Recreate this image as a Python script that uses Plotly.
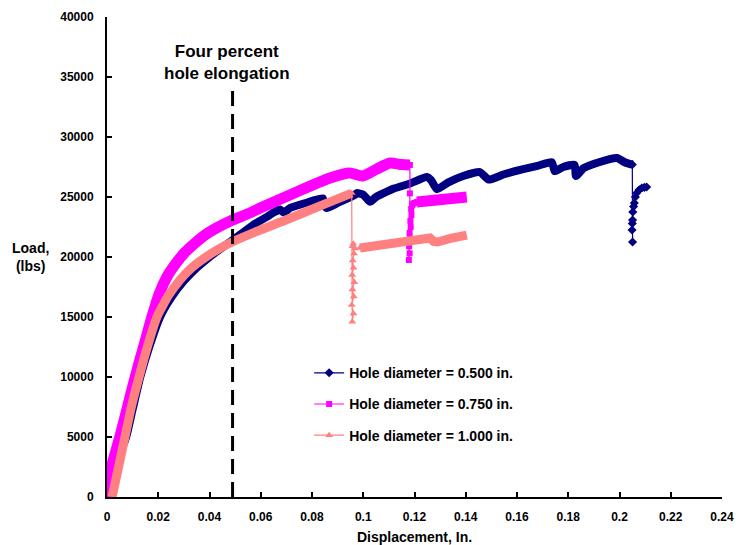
import plotly.graph_objects as go

# ---------------- data ----------------
# Hole diameter = 0.500 in.  (continuous curve up to failure)
d050_x = [0, 0.0015, 0.004, 0.0075, 0.010, 0.013, 0.0165, 0.0207, 0.025, 0.030, 0.035,
          0.040, 0.045, 0.0507, 0.058, 0.062, 0.065, 0.0675, 0.069, 0.0714, 0.0775,
          0.0842, 0.0848, 0.0858, 0.090, 0.0967, 0.0975, 0.100, 0.1026, 0.105, 0.112,
          0.118, 0.1248, 0.1265, 0.1287, 0.133, 0.139, 0.1455, 0.149, 0.155, 0.162,
          0.168, 0.1736, 0.1747, 0.178, 0.1825, 0.183, 0.186, 0.192, 0.199, 0.202, 0.205]
d050_y = [0, 1200, 3000, 5000, 7300, 10000, 12500, 15000, 16600, 18000, 19100,
          20000, 20800, 21670, 22800, 23300, 23700, 23950, 23700, 24080, 24500,
          24900, 24300, 24080, 24500, 25170, 25330, 25200, 24600, 25000, 25700,
          26100, 26670, 26400, 25650, 26200, 26750, 27080, 26450, 26900, 27300,
          27600, 27900, 27150, 27500, 27670, 26750, 27400, 27900, 28250, 27900, 27700]
# 0.500 in. : load drop and recovery points
d050_fx = [0.205, 0.2051, 0.2049, 0.2050, 0.2051, 0.2052, 0.2055, 0.2058, 0.2062,
           0.2067, 0.2077, 0.2087, 0.2097, 0.2106]
d050_fy = [27700, 21250, 22250, 22800, 23080, 23750, 24200, 24500, 25000,
           25330, 25600, 25750, 25800, 25830]

# Hole diameter = 0.750 in.
d075_x = [0, 0.0005, 0.005, 0.008, 0.011, 0.0145, 0.0175, 0.0205, 0.0235, 0.027,
          0.030, 0.034, 0.038, 0.043, 0.049, 0.055, 0.060, 0.074, 0.087, 0.0948,
          0.0998, 0.105, 0.1104, 0.115, 0.1182]
d075_y = [0, 1500, 5000, 7500, 10000, 12700, 15000, 17000, 18400, 19500,
          20300, 21100, 21800, 22450, 23080, 23600, 24100, 25420, 26580, 27000,
          26750, 27300, 27830, 27700, 27670]
d075_fx = [0.1182, 0.1182, 0.1178, 0.1181, 0.1179, 0.1183, 0.1181, 0.1185, 0.1184,
           0.1188, 0.1187, 0.1191, 0.1195, 0.1200, 0.1209]
d075_fy = [27670, 25300, 19750, 20300, 20900, 21500, 22000, 22500, 23000,
           23500, 24000, 24300, 24450, 24500, 24580]
d075_px = [0.1209, 0.125, 0.130, 0.135, 0.1404]
d075_py = [24580, 24700, 24800, 24900, 25000]

# Hole diameter = 1.000 in.
d100_x = [0.002, 0.0045, 0.007, 0.0095, 0.0125, 0.016, 0.0195, 0.024, 0.0285, 0.033,
          0.0386, 0.043, 0.048, 0.058, 0.070, 0.082, 0.0955]
d100_y = [0, 2500, 5000, 7500, 10000, 12700, 15000, 16800, 18100, 19100,
          20000, 20600, 21170, 22100, 23100, 24150, 25330]
d100_fx = [0.0955, 0.0957, 0.0962, 0.0955, 0.0963, 0.0958, 0.0965, 0.0957, 0.0962,
           0.0959, 0.0964, 0.0958, 0.0961, 0.0968, 0.0987]
d100_fy = [25330, 14600, 15300, 16000, 16700, 17300, 17900, 18500, 19100,
           19700, 20300, 20900, 21100, 20700, 20750]
d100_px = [0.0987, 0.105, 0.112, 0.120, 0.126, 0.1275, 0.1290, 0.134, 0.1404]
d100_py = [20750, 20950, 21150, 21380, 21580, 21300, 21250, 21550, 21830]

series_names = ["Hole diameter = 0.500 in.", "Hole diameter = 0.750 in.",
                "Hole diameter = 1.000 in."]

# four-percent hole elongation marker
elong_x = [0.049, 0.049]
elong_y = [0, 34000]

x_ticks = [0, 0.02, 0.04, 0.06, 0.08, 0.1, 0.12, 0.14, 0.16, 0.18, 0.2, 0.22, 0.24]
x_tick_text = ["0", "0.02", "0.04", "0.06", "0.08", "0.1", "0.12", "0.14", "0.16",
               "0.18", "0.2", "0.22", "0.24"]
y_ticks = [0, 5000, 10000, 15000, 20000, 25000, 30000, 35000, 40000]
y_tick_text = ["0", "5000", "10000", "15000", "20000", "25000", "30000", "35000", "40000"]

# ---------------- figure ----------------
NAVY = "#000080"
MAGENTA = "#FF00FF"
SALMON = "#FF8080"
FONT = "Liberation Sans, Arial, sans-serif"

fig = go.Figure()

def add_series(name, color, symbol, msize, width, mx, my, fx, fy, px=None, py=None):
    # thick main curve (dense data points in the original)
    fig.add_trace(go.Scatter(x=mx, y=my, mode="lines",
                             line=dict(color=color, width=width, shape="spline", smoothing=0.5),
                             showlegend=False, legendgroup=name, hoverinfo="skip"))
    # drop + recovery: thin line with markers (also used for the legend)
    fig.add_trace(go.Scatter(x=fx, y=fy, mode="lines+markers", name=name,
                             line=dict(color=color, width=1.2),
                             marker=dict(color=color, symbol=symbol, size=msize),
                             legendgroup=name, showlegend=True))
    if px is not None:
        fig.add_trace(go.Scatter(x=px, y=py, mode="lines", line=dict(color=color, width=width),
                                 showlegend=False, legendgroup=name, hoverinfo="skip"))

add_series(series_names[0], NAVY, "diamond", 7, 8, d050_x, d050_y, d050_fx, d050_fy)
add_series(series_names[1], MAGENTA, "square", 6, 11, d075_x, d075_y, d075_fx, d075_fy,
           d075_px, d075_py)
add_series(series_names[2], SALMON, "triangle-up", 7, 9, d100_x, d100_y, d100_fx, d100_fy,
           d100_px, d100_py)

fig.add_trace(go.Scatter(x=elong_x, y=elong_y, mode="lines",
                         line=dict(color="black", width=3, dash="15px,8px"),
                         showlegend=False, hoverinfo="skip"))

fig.add_annotation(x=0.0468, y=36200, xref="x", yref="y",
                   text="Four percent<br>hole elongation", showarrow=False,
                   font=dict(family=FONT, size=17, color="black", weight="bold"))
fig.add_annotation(x=-0.125, y=0.5, xref="paper", yref="paper", xanchor="center",
                   yanchor="middle", text="Load,<br>(lbs)", showarrow=False,
                   font=dict(family=FONT, size=14, color="black", weight="bold"))

fig.update_layout(
    width=736, height=545,
    margin=dict(l=107, r=14, t=17, b=48, autoexpand=False),
    paper_bgcolor="white", plot_bgcolor="white",
    font=dict(family=FONT, color="black", weight="bold"),
    legend=dict(x=0.3287, y=0.2913, xanchor="left", yanchor="top",
                bgcolor="rgba(0,0,0,0)", traceorder="grouped", tracegroupgap=10,
                font=dict(family=FONT, size=14, color="black", weight="bold")),
    xaxis=dict(range=[0, 0.24], tickvals=x_ticks, ticktext=x_tick_text, automargin=False,
               showgrid=False, zeroline=False, showline=True, linecolor="black",
               linewidth=2, ticks="inside", ticklen=5, tickwidth=2, tickcolor="black",
               ticklabelstandoff=8,
               tickfont=dict(family=FONT, size=12, color="black", weight="bold"),
               title=dict(text="Displacement, In.", standoff=10,
                          font=dict(family=FONT, size=14, color="black", weight="bold"))),
    yaxis=dict(range=[0, 40000], tickvals=y_ticks, ticktext=y_tick_text, automargin=False,
               showgrid=False, zeroline=False, showline=True, linecolor="black",
               linewidth=2, ticks="inside", ticklen=5, tickwidth=2, tickcolor="black",
               ticklabelstandoff=9,
               tickfont=dict(family=FONT, size=12, color="black", weight="bold")),
)

fig.write_html("out.html")
